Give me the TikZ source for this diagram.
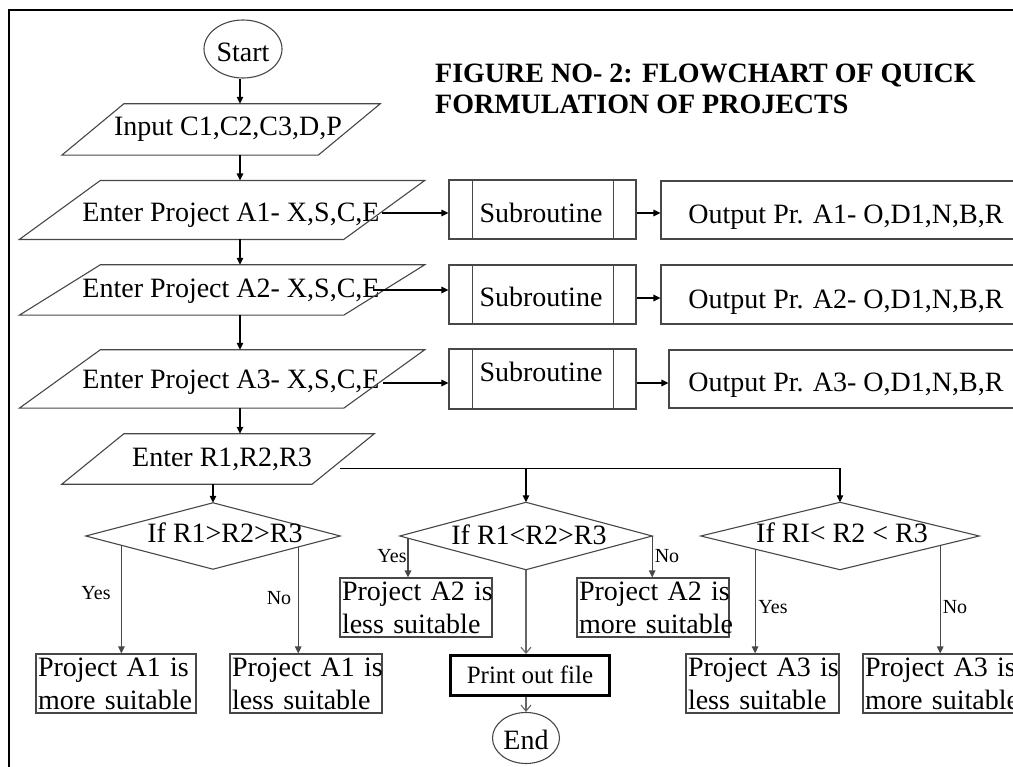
\documentclass[tikz,border=0pt]{standalone}
\usepackage{fontspec}
\setmainfont{Liberation Serif}
\usetikzlibrary{arrows.meta,calc,shapes.geometric}

% outline of a slanted input/output box around a text node:
% #1 node name, #2 half of the slant, #3 horizontal offset of the outline
\newcommand\slantbox[3]{%
  \draw[outline] ([xshift=#3pt+#2pt]#1.north west) -- ([xshift=#3pt+#2pt]#1.north east)
    -- ([xshift=#3pt-#2pt]#1.south east) -- ([xshift=#3pt-#2pt]#1.south west) -- cycle;}
% decision diamond drawn on the anchors of a node
\newcommand\diamondbox[1]{%
  \draw[outline] (#1.north) -- (#1.east) -- (#1.south) -- (#1.west) -- cycle;}

\begin{document}
\begin{tikzpicture}[x=1pt, y=-1pt,
  outline/.style={draw=black!72, line width=1.1pt},
  txt/.style={font=\fontsize{28}{33}\selectfont, inner sep=0pt, text depth=0pt, text height=#1},
  txt/.default=18.5pt,
  lbl/.style={font=\fontsize{20}{24}\selectfont, inner sep=0pt, text height=13.5pt, text depth=0pt},
  twoline/.style={outline, font=\fontsize{28}{33}\selectfont, align=left,
    inner xsep=2pt, inner ysep=0pt, minimum height=59pt, text width=#1},
  titletext/.style={font=\fontsize{28}{30}\selectfont\bfseries, inner sep=0pt, anchor=base west},
  arr/.style={draw=black, line width=1.1pt, -{Triangle[length=7pt,width=6.5pt]}},
  garr/.style={draw=black!72, line width=1.1pt, -{Triangle[length=7pt,width=6.5pt]}},
  openarr/.style={draw=black!60, line width=1.1pt, -{Straight Barb[length=6pt,width=10pt]}},
  plain/.style={draw=black!72, line width=1.1pt},
]
\useasboundingbox (0,0) rectangle (1013,767);
\clip (0,0) rectangle (1013,767);

% frame
\draw[line width=1.2pt] (9,800) -- (9,10) -- (1040,10);

% title
\node[titletext] (title1) at (435,83) {FIGURE NO- 2: FLOWCHART OF QUICK};
\node[titletext] (title2) at (435,114) {FORMULATION OF PROJECTS};

% main column
\node[ellipse, outline, txt=24.5pt, minimum width=78pt, minimum height=58pt] (start) at (243,49) {Start};

\node[txt=12.5pt, minimum width=256pt, minimum height=51pt] (input) at (228,129.5) {Input C1,C2,C3,D,P};
\slantbox{input}{31}{-7}

\node[txt=22.5pt, minimum width=324pt, minimum height=58.6pt] (a1) at (231,210) {Enter Project A1- X,S,C,E};
\slantbox{a1}{40.5}{-9}
\node[txt=14.5pt, minimum width=324pt, minimum height=50pt] (a2) at (231,290) {Enter Project A2- X,S,C,E};
\slantbox{a2}{40.5}{-9}
\node[txt, minimum width=324pt, minimum height=58pt] (a3) at (231,379) {Enter Project A3- X,S,C,E};
\slantbox{a3}{40.5}{-9}

\node[txt=15.5pt, minimum width=250pt, minimum height=50pt] (r) at (222,459) {Enter R1,R2,R3};
\slantbox{r}{31}{-4}

% subroutines
\node[outline, minimum width=187pt, minimum height=59pt] (s1) at (542.5,209.5) {};
\node[outline, minimum width=187pt, minimum height=59pt] (s2) at (542.5,294.5) {};
\node[outline, minimum width=187pt, minimum height=60pt] (s3) at (542.5,379) {};
\foreach \s in {s1,s2,s3}{
  \draw[outline] ([xshift=24pt]\s.north west) -- ([xshift=24pt]\s.south west);
  \draw[outline] ([xshift=-23pt]\s.north east) -- ([xshift=-23pt]\s.south east);
}
\node[txt] (s1t) at (541,213) {Subroutine};
\node[txt] (s2t) at (541,297) {Subroutine};
\node[txt] (s3t) at (541,372) {Subroutine};

% outputs
\node[outline, txt=26.5pt, minimum width=370pt, minimum height=58pt] (o1) at (846,210) {Output Pr. A1- O,D1,N,B,R};
\node[outline, txt=27.5pt, minimum width=370pt, minimum height=59pt] (o2) at (846,294.5) {Output Pr. A2- O,D1,N,B,R};
\node[outline, txt=25.5pt, minimum width=354pt, minimum height=58pt] (o3) at (846,379) {Output Pr. A3- O,D1,N,B,R};

% decisions
\node[minimum width=254pt, minimum height=66pt, inner sep=0pt] (d1) at (213,536) {};
\node[minimum width=252pt, minimum height=67pt, inner sep=0pt] (d2) at (526,536) {};
\node[minimum width=278pt, minimum height=67pt, inner sep=0pt] (d3) at (840,536) {};
\diamondbox{d1}
\diamondbox{d2}
\diamondbox{d3}
\node[txt] (d1t) at (225,533) {If R1>R2>R3};
\node[txt] (d2t) at (529,535) {If R1<R2>R3};
\node[txt] (d3t) at (842,533) {If RI< R2 < R3};

% results
\node[twoline=156pt] (b11) at (116,683.5) {\mbox{Project A1 is}\\\mbox{more suitable}};
\node[twoline=148pt] (b12) at (306,683.5) {\mbox{Project A1 is}\\\mbox{less suitable}};
\node[twoline=148pt] (b21) at (416,607.5) {\mbox{Project A2 is}\\\mbox{less suitable}};
\node[twoline=148pt] (b22) at (653,607.5) {\mbox{Project A2 is}\\\mbox{more suitable}};
\node[twoline=149pt] (b31) at (762.5,683.5) {\mbox{Project A3 is}\\\mbox{less suitable}};
\node[twoline=148pt] (b32) at (939,683.5) {\mbox{Project A3 is}\\\mbox{more suitable}};

\node[draw=black, line width=3pt, font=\fontsize{25}{30}\selectfont, inner sep=0pt,
      text height=16.5pt, text depth=0pt, minimum width=159pt, minimum height=40pt] (print) at (530,675.5) {Print out file};
\node[ellipse, outline, txt=22.5pt, minimum width=67pt, minimum height=51pt] (end) at (526,738) {End};

% branch labels
\node[lbl] (y1) at (96,593) {Yes};
\node[lbl] (n1) at (279,598) {No};
\node[lbl] (y2) at (392,556) {Yes};
\node[lbl] (n2) at (667,556) {No};
\node[lbl] (y3) at (773,607) {Yes};
\node[lbl] (n3) at (955,607) {No};

% main column connectors
\coordinate (col) at (240,0);
\draw[arr] (start.south -| col) -- (input.north -| col);
\draw[arr] (input.south -| col) -- (a1.north -| col);
\draw[arr] (a1.south -| col) -- (a2.north -| col);
\draw[arr] (a2.south -| col) -- (a3.north -| col);
\draw[arr] (a3.south -| col) -- (r.north -| col);
\draw[arr] (r.south -| d1.north) -- (d1.north);

% project rows
\coordinate (a1o) at ([xshift=-11pt,yshift=-3pt]a1.east);
\coordinate (a2o) at ([xshift=-20pt]a2.east);
\coordinate (a3o) at ([xshift=-10pt,yshift=-4pt]a3.east);
\draw[arr] (a1o) -- (a1o -| s1.west);
\draw[arr] (a2o) -- (a2o -| s2.west);
\draw[arr] (a3o) -- (a3o -| s3.west);
\coordinate (s1o) at ([yshift=-3.5pt]s1.east);
\coordinate (s2o) at ([yshift=-3.5pt]s2.east);
\coordinate (s3o) at ([yshift=-4pt]s3.east);
\draw[arr] (s1o) -- (s1o -| o1.west);
\draw[arr] (s2o) -- (s2o -| o2.west);
\draw[arr] (s3o) -- (s3o -| o3.west);

% split to the other decisions
\coordinate (split) at ([xshift=-7pt,yshift=-9.5pt]r.east);
\draw[arr] (split) -| (d3.north);
\draw[arr] (split -| d2.north) -- (d2.north);

% decision branches
\coordinate (d1y) at ($(d1.west)!0.28!(d1.south)$);
\coordinate (d1n) at ($(d1.east)!0.33!(d1.south)$);
\coordinate (d2y) at ($(d2.west)!0.065!(d2.south)$);
\coordinate (d3y) at ($(d3.west)!0.39!(d3.south)$);
\coordinate (d3n) at ($(d3.east)!0.28!(d3.south)$);
\draw[garr] (d1y) -- (d1y |- b11.north);
\draw[garr] (d1n) -- (d1n |- b12.north);
\draw[garr] (d2y) -- (d2y |- b21.north);
\draw[garr] (d2.east) -- (d2.east |- b22.north);
\draw[garr] (d3y) -- (d3y |- b31.north);
\draw[garr] (d3n) -- (d3n |- b32.north);
\draw[openarr] (d2.south) -- (d2.south |- print.north);
\draw[openarr] (print.south -| end.north) -- (end.north);
\end{tikzpicture}
\end{document}
